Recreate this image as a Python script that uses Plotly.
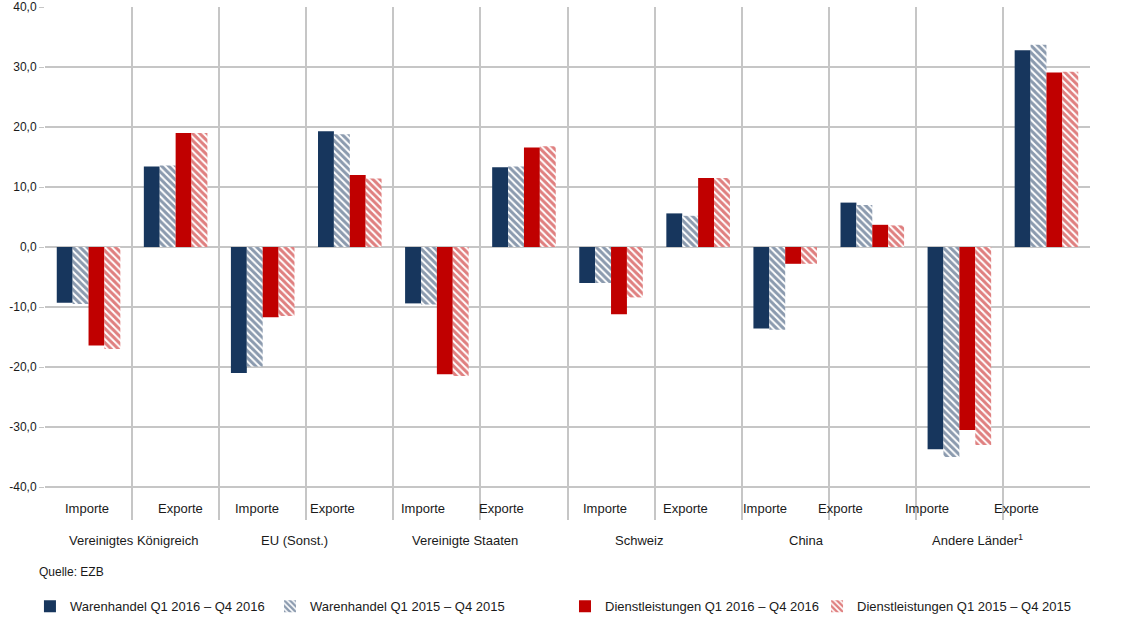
import plotly.graph_objects as go

# ---- data ----
groups = ["Vereinigtes Königreich", "EU (Sonst.)", "Vereinigte Staaten",
          "Schweiz", "China", "Andere Länder<sup>1</sup>"]
flows = ["Importe", "Exporte"]
categories = [f"{g} {f}" for g in groups for f in flows]

waren_2016 = [-9.3, 13.4, -21.0, 19.3, -9.4, 13.3, -6.0, 5.6, -13.6, 7.4, -33.7, 32.8]
waren_2015 = [-9.5, 13.6, -19.9, 18.8, -9.6, 13.4, -6.0, 5.2, -13.8, 7.0, -35.0, 33.7]
dienst_2016 = [-16.4, 19.0, -11.7, 12.0, -21.2, 16.6, -11.2, 11.5, -2.8, 3.7, -30.5, 29.1]
dienst_2015 = [-17.0, 19.0, -11.5, 11.4, -21.5, 16.8, -8.4, 11.5, -2.8, 3.6, -33.0, 29.2]

series_names = ["Warenhandel Q1 2016 – Q4 2016", "Warenhandel Q1 2015 – Q4 2015",
                "Dienstleistungen Q1 2016 – Q4 2016", "Dienstleistungen Q1 2015 – Q4 2015"]

y_ticks = [-40, -30, -20, -10, 0, 10, 20, 30, 40]
y_ticktext = ["-40,0", "-30,0", "-20,0", "-10,0", "0,0", "10,0", "20,0", "30,0", "40,0"]

# ---- layout constants (label placement only) ----
flow_label_shift = [-0.02, 0.06, -0.07, -0.2, -0.16, -0.26, -0.07, -0.14, -0.23, -0.36, -0.37, -0.34]
group_label_shift = [0.02, -0.14, -0.18, -0.18, -0.26, -0.29]
legend_x = [-0.0144, 0.2153, 0.4976, 0.7388]

NAVY = "#17365d"
RED = "#c00000"
FONT = "Liberation Sans, Arial, sans-serif"

xpos = list(range(len(categories)))

fig = go.Figure()
specs = [
    (waren_2016, NAVY, ""),
    (waren_2015, NAVY, "\\"),
    (dienst_2016, RED, ""),
    (dienst_2015, RED, "\\"),
]
legend_ids = ["legend", "legend2", "legend3", "legend4"]
for name, (vals, col, pat), lid in zip(series_names, specs, legend_ids):
    if pat:
        marker = dict(color="white", line=dict(width=0),
                      pattern=dict(shape=pat, fgcolor=col, bgcolor="white",
                                   size=5, solidity=0.6, fillmode="overlay"))
    else:
        marker = dict(color=col, line=dict(width=0))
    fig.add_trace(go.Bar(x=xpos, y=vals, name=name, marker=marker,
                         legend=lid, hoverinfo="y+name"))

annotations = []
for i, cat in enumerate(categories):
    annotations.append(dict(x=xpos[i] + flow_label_shift[i], y=-43.5, xref="x", yref="y",
                            text=flows[i % 2], showarrow=False, yanchor="middle",
                            font=dict(size=13, color="#1a1a1a", family=FONT)))
for j, g in enumerate(groups):
    annotations.append(dict(x=2 * j + 0.5 + group_label_shift[j], y=0, xref="x", yref="paper",
                            yshift=-20, yanchor="middle", text=g, showarrow=False,
                            font=dict(size=13, color="#1a1a1a", family=FONT)))
annotations.append(dict(x=(37 - 45) / 1045, y=(520 - 572) / 513, xref="paper", yref="paper",
                        xanchor="left", yanchor="middle", text="Quelle: EZB",
                        showarrow=False, font=dict(size=12, color="#1a1a1a", family=FONT)))

legend_common = dict(orientation="h", xanchor="left", y=-0.168, yanchor="middle",
                     font=dict(size=13, family=FONT, color="#1a1a1a"),
                     itemwidth=30, bgcolor="rgba(0,0,0,0)", borderwidth=0)

fig.update_layout(
    width=1124, height=620,
    margin=dict(l=45, r=34, t=7, b=100, autoexpand=False),
    paper_bgcolor="white", plot_bgcolor="white",
    barmode="group", bargap=0.27, bargroupgap=0,
    font=dict(family=FONT, size=13, color="#1a1a1a"),
    showlegend=True,
    legend=dict(x=legend_x[0], **legend_common),
    legend2=dict(x=legend_x[1], **legend_common),
    legend3=dict(x=legend_x[2], **legend_common),
    legend4=dict(x=legend_x[3], **legend_common),
    annotations=annotations,
    xaxis=dict(range=[-0.5, len(categories) - 0.5], showticklabels=False, ticks="",
               showgrid=False, zeroline=False, showline=False, automargin=False,
               tickmode="linear", tick0=0, dtick=1,
               minor=dict(tickmode="linear", tick0=0.5, dtick=1, showgrid=True,
                          gridcolor="#c6c6c6", gridwidth=1.5, ticks="")),
    yaxis=dict(range=[-45.5, 40], tickmode="array", tickvals=y_ticks, ticktext=y_ticktext,
               showgrid=True, gridcolor="#c6c6c6", gridwidth=1.5, zeroline=False,
               showline=False, ticks="outside", ticklen=5, tickcolor="#c6c6c6",
               automargin=False,
               tickfont=dict(size=12, color="#1a1a1a", family=FONT)),
)

fig.write_html("out.html")
